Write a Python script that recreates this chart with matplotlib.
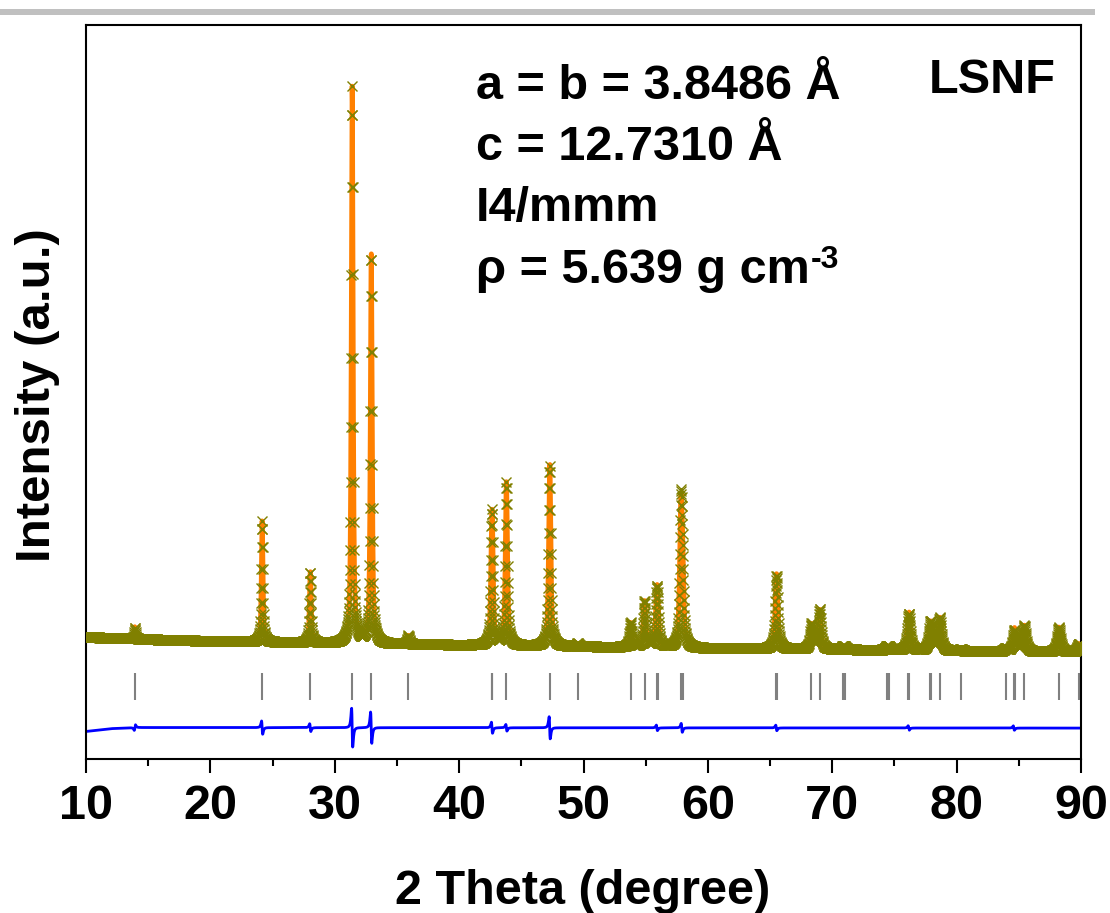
import numpy as np
import matplotlib
matplotlib.use("Agg")
import matplotlib.pyplot as plt
from matplotlib.patches import Rectangle

plt.rcParams['font.family'] = ['Liberation Sans', 'DejaVu Sans']
plt.rcParams['font.weight'] = 'bold'

# reflections (2theta, deg) and peak heights above background (strongest = 100)
peak_pos = [13.93, 24.16, 28.03, 31.40, 32.93, 35.92, 42.62, 42.66, 43.80, 47.28,
            49.52, 53.78, 54.91, 55.87, 55.95, 57.83, 57.97, 65.50, 65.53, 68.33,
            68.99, 70.85, 71.00, 74.38, 74.57, 76.13, 76.19, 77.85, 77.97, 78.66,
            80.36, 83.96, 84.64, 84.67, 85.44, 88.22, 89.84]
peak_height = [2.0, 21.5, 12.5, 99.0, 69.0, 1.5, 12.5, 12.5, 29.0, 32.0,
               0.5, 4.3, 8.2, 6.0, 6.0, 24.0, 10.0, 6.6, 6.6, 4.4,
               7.0, 0.4, 0.4, 0.5, 0.5, 3.4, 3.4, 3.0, 3.0, 5.8,
               0.3, 0.5, 1.9, 1.9, 4.6, 4.4, 1.5]

# background read along the pattern
bg_x = [10, 15, 20, 30, 40, 50, 60, 70, 80, 90]
bg_y = [4.1, 3.7, 3.4, 3.0, 2.7, 2.4, 2.1, 1.9, 1.6, 1.4]

# misfit (obs - calc) around peaks
diff_pos = [13.93, 24.16, 28.03, 31.40, 32.93, 42.64, 43.80, 47.28, 55.90, 57.90, 65.50, 76.15, 84.60]
diff_amp = [-0.5, 1.2, 0.7, 3.5, 2.8, 1.0, 0.6, 2.0, 0.5, 0.8, 0.5, 0.4, 0.4]
diff_base_x = [10, 12, 14, 90]
diff_base_y = [-12.7, -12.2, -12.0, -12.1]

x = np.arange(10, 90.0001, 0.02)


def pv(x, p, h, eta=0.7):
    w = 0.11 + 0.0025 * (p - 10)
    t = (x - p) / (w / 2)
    lor = 1 / (1 + t**2)
    gau = np.exp(-np.log(2) * t**2)
    return h * (eta * lor + (1 - eta) * gau)


bg = np.interp(x, bg_x, bg_y)
obs = bg.copy()
for p, h in zip(peak_pos, peak_height):
    obs += pv(x, p, h)

resid = np.zeros_like(x)
for p, a in zip(diff_pos, diff_amp):
    t = (x - p) / 0.08
    resid += a * (-t) / (1 + t**2)**2 / 0.3248
calc = obs - resid
diff = np.interp(x, diff_base_x, diff_base_y) + resid

W, H = 1110, 913
fig = plt.figure(figsize=(W / 100, H / 100), dpi=100)
ax = fig.add_axes([86 / W, (H - 759) / H, (1081 - 86) / W, (759 - 25) / H])

ax.plot(x, calc, color='#ff8000', lw=3.5, zorder=2)
ax.plot(x, obs, ls='none', marker='x', ms=7, mew=1, color='#808000', zorder=3)
ax.vlines(peak_pos, -7.1, -2.3, color='#808080', lw=1.5, zorder=2)
ax.plot(x, diff, color='#0000ff', lw=2, zorder=2)

ax.set_xlim(10, 90)
ax.set_ylim(-17.6, 113.0)
ax.set_yticks([])
ax.set_xticks(np.arange(10, 91, 10))
ax.set_xticks(np.arange(15, 90, 10), minor=True)
ax.tick_params(axis='x', which='major', direction='out', length=10, width=1.5,
               labelsize=35, pad=8)
ax.tick_params(axis='x', which='minor', direction='out', length=5, width=1.5)
for s in ax.spines.values():
    s.set_linewidth(1.5)

fig.text(583 / W, 1 - 904 / H, '2 Theta (degree)', fontsize=35, ha='center', va='baseline')
fig.text(50 / W, 1 - 395 / H, 'Intensity (a.u.)', fontsize=35.5, ha='center', va='baseline',
         rotation=90, rotation_mode='anchor')

fig.text(476 / W, 1 - 99 / H, 'a = b = 3.8486 Å', fontsize=35, va='baseline')
fig.text(476 / W, 1 - 160 / H, 'c = 12.7310 Å', fontsize=35, va='baseline')
fig.text(476 / W, 1 - 221 / H, 'I4/mmm', fontsize=35, va='baseline')
rho = fig.text(476 / W, 1 - 283 / H, 'ρ = 5.639 g cm', fontsize=35, va='baseline')
fig.text(1056 / W, 1 - 93 / H, 'LSNF', fontsize=35, ha='right', va='baseline')

fig.canvas.draw()
bb = rho.get_window_extent()
fig.text((bb.x1 + 1) / W, 1 - 268 / H, '-3', fontsize=23, va='baseline')

fig.add_artist(Rectangle((0, 1 - 15 / H), 1095 / W, 6 / H, transform=fig.transFigure,
                         color='#c0c0c0', lw=0))

fig.savefig('out.png', dpi=100)
